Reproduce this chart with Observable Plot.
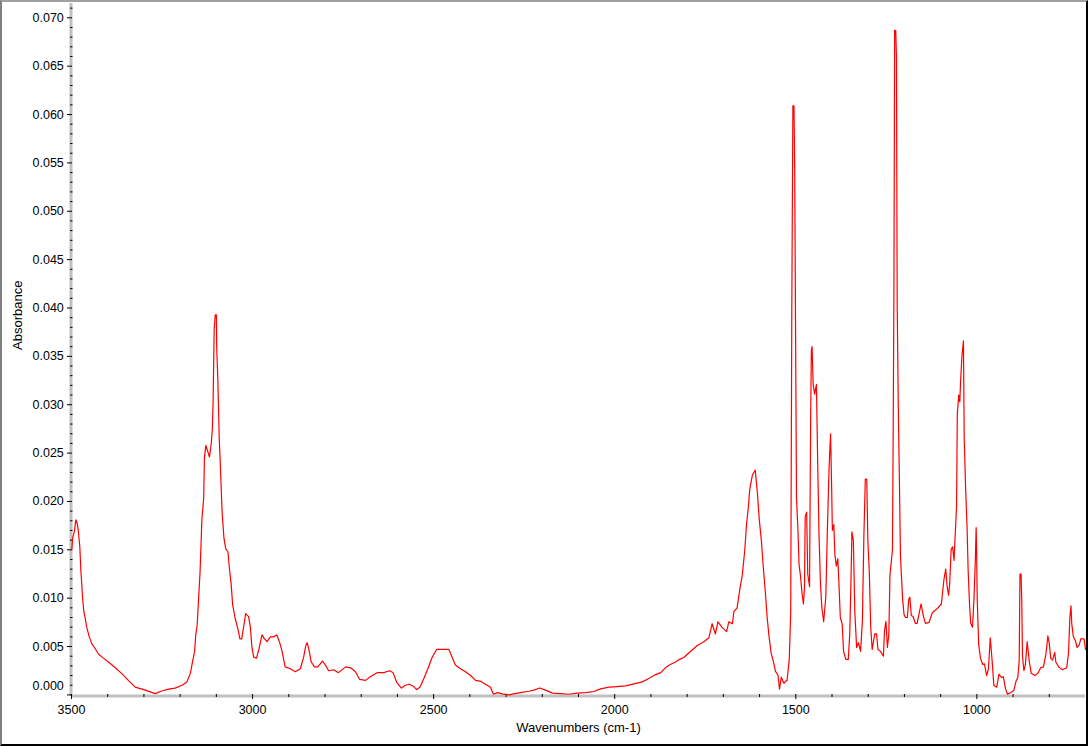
<!DOCTYPE html>
<html>
<head>
<meta charset="utf-8">
<script src="https://cdn.jsdelivr.net/npm/d3@7"></script>
<script src="https://cdn.jsdelivr.net/npm/@observablehq/plot@0.6"></script>
<style>
html, body { margin: 0; padding: 0; background: #fff; }
#wrap { position: relative; width: 1088px; height: 746px; overflow: hidden; }
#border { position: absolute; left: 0; top: 0; width: 1088px; height: 746px; box-sizing: border-box;
  border-top: 2px solid #a0a0a0; border-left: 2px solid #808080; border-right: 2px solid #000; border-bottom: 2px solid #000;
  pointer-events: none; }
</style>
</head>
<body>
<div id="wrap"><div id="chart"></div><div id="border"></div></div>
<script>
const wavenumbers = [
3499,3497,3492,3488,3484,3481,3477,3474,3472,3470,3466,3462,3458,3451,3444,3435,3425,3412,3398,3379,
3361,3343,3324,3296,3269,3251,3232,3214,3195,3182,3172,3166,3160,3157,3153,3149,3145,3140,3135,3133,
3129,3124,3119,3114,3111,3109,3106,3103,3100,3099,3096,3092,3089,3087,3084,3079,3074,3068,3064,3059,
3055,3048,3041,3035,3030,3024,3019,3011,3006,3002,2997,2989,2982,2974,2967,2960,2951,2942,2933,2926,
2919,2910,2896,2882,2868,2859,2853,2849,2844,2838,2829,2820,2813,2807,2799,2790,2776,2763,2743,2729,
2716,2704,2688,2674,2656,2638,2621,2612,2602,2589,2578,2568,2556,2547,2538,2527,2516,2504,2492,2472,
2458,2449,2440,2426,2412,2398,2384,2370,2357,2343,2335,2324,2311,2292,2279,2260,2237,2223,2207,2191,
2172,2150,2127,2103,2080,2058,2039,2016,1993,1970,1947,1924,1906,1887,1873,1860,1850,1841,1832,1820,
1809,1791,1772,1754,1740,1731,1722,1715,1703,1691,1685,1675,1671,1662,1655,1648,1641,1636,1631,1627,
1620,1612,1606,1601,1595,1590,1584,1579,1574,1568,1562,1556,1549,1545,1540,1533,1524,1518,1514,1511,
1508,1505,1503,1501,1498,1494,1491,1487,1483,1479,1476,1474,1470,1467,1462,1459,1457,1455,1452,1448,
1443,1439,1436,1432,1428,1423,1417,1413,1408,1404,1401,1399,1395,1392,1388,1384,1381,1377,1372,1368,
1362,1355,1351,1347,1345,1341,1337,1332,1327,1321,1316,1312,1308,1304,1301,1297,1293,1289,1282,1277,
1273,1266,1258,1255,1251,1247,1243,1240,1236,1233,1231,1229,1227,1224,1222,1220,1217,1214,1211,1208,
1205,1201,1197,1192,1188,1185,1181,1176,1170,1165,1159,1154,1148,1142,1132,1123,1110,1098,1091,1086,
1082,1078,1075,1071,1067,1063,1060,1056,1054,1050,1047,1045,1041,1037,1035,1031,1027,1024,1020,1017,
1012,1008,1004,1002,1001,999,995,990,984,979,973,968,963,958,953,945,939,932,927,921,
916,907,898,892,887,883,881,878,876,874,870,866,861,855,850,840,831,824,816,809,
804,800,796,791,785,782,774,764,752,747,743,740,738,734,728,723,717,713,710,704,
700
];
const absorbance = [
0.01500,0.01620,0.01690,0.01810,0.01770,0.01690,0.01530,0.01270,0.01170,0.01030,0.00860,0.00790,0.00700,0.00600,0.00530,0.00480,0.00420,0.00380,0.00340,0.00280,
0.00220,0.00150,0.00080,0.00050,0.00013,0.00040,0.00060,0.00070,0.00100,0.00130,0.00220,0.00340,0.00450,0.00620,0.00720,0.01000,0.01270,0.01810,0.02030,0.02450,
0.02580,0.02520,0.02460,0.02600,0.02760,0.03030,0.03780,0.03930,0.03930,0.03590,0.03270,0.02650,0.02380,0.02170,0.01880,0.01620,0.01510,0.01480,0.01310,0.01140,
0.00930,0.00790,0.00690,0.00580,0.00580,0.00720,0.00840,0.00810,0.00700,0.00500,0.00390,0.00380,0.00480,0.00620,0.00580,0.00550,0.00600,0.00600,0.00620,0.00550,
0.00460,0.00290,0.00270,0.00240,0.00270,0.00390,0.00510,0.00540,0.00460,0.00340,0.00290,0.00290,0.00320,0.00350,0.00310,0.00250,0.00260,0.00230,0.00290,0.00280,
0.00240,0.00160,0.00150,0.00190,0.00230,0.00230,0.00250,0.00230,0.00130,0.00070,0.00100,0.00110,0.00090,0.00055,0.00080,0.00170,0.00270,0.00390,0.00470,0.00470,
0.00470,0.00390,0.00310,0.00270,0.00240,0.00200,0.00150,0.00140,0.00110,0.00080,0.00007,0.00024,0.00010,0.00000,0.00010,0.00024,0.00038,0.00050,0.00072,0.00049,
0.00018,0.00013,0.00007,0.00018,0.00024,0.00035,0.00062,0.00080,0.00086,0.00093,0.00114,0.00135,0.00169,0.00210,0.00230,0.00280,0.00307,0.00324,0.00340,0.00370,
0.00387,0.00449,0.00510,0.00550,0.00590,0.00736,0.00630,0.00756,0.00695,0.00654,0.00756,0.00736,0.00860,0.00900,0.01080,0.01230,0.01490,0.01760,0.01940,0.02130,
0.02270,0.02325,0.02090,0.01820,0.01595,0.01330,0.01060,0.00797,0.00610,0.00430,0.00347,0.00244,0.00203,0.00060,0.00183,0.00121,0.00154,0.00367,0.00860,0.03990,
0.06090,0.06090,0.05450,0.04030,0.02030,0.01700,0.01350,0.01230,0.01060,0.00940,0.01100,0.01840,0.01890,0.01250,0.01120,0.02840,0.03560,0.03600,0.03210,0.03110,
0.03210,0.02290,0.01680,0.01166,0.00900,0.00756,0.01020,0.01680,0.02350,0.02700,0.02150,0.01700,0.01760,0.01450,0.01330,0.01410,0.01166,0.00800,0.00736,0.00450,
0.00367,0.00367,0.00630,0.01290,0.01685,0.01595,0.00860,0.00490,0.00540,0.00450,0.00777,0.01640,0.02230,0.02230,0.01595,0.01270,0.00695,0.00470,0.00630,0.00630,
0.00470,0.00450,0.00400,0.00670,0.00760,0.00490,0.00630,0.01240,0.01390,0.01505,0.02760,0.04180,0.06870,0.06870,0.06580,0.04050,0.02990,0.02250,0.01440,0.01210,
0.00990,0.00830,0.00800,0.00800,0.00990,0.01010,0.00820,0.00810,0.00740,0.00740,0.00850,0.00940,0.00820,0.00740,0.00750,0.00850,0.00890,0.00940,0.01190,0.01300,
0.01120,0.01030,0.01150,0.01505,0.01530,0.01390,0.01640,0.01950,0.02900,0.03100,0.03030,0.03240,0.03510,0.03660,0.02670,0.02130,0.01730,0.01280,0.00920,0.00740,
0.00700,0.00990,0.01415,0.01730,0.01570,0.00990,0.00520,0.00380,0.00315,0.00320,0.00200,0.00270,0.00590,0.00360,0.00098,0.00080,0.00215,0.00180,0.00190,0.00067,
0.00008,0.00022,0.00045,0.00140,0.00180,0.00360,0.01250,0.01250,0.00970,0.00400,0.00250,0.00315,0.00550,0.00340,0.00225,0.00200,0.00225,0.00280,0.00290,0.00430,
0.00610,0.00530,0.00380,0.00360,0.00440,0.00340,0.00290,0.00260,0.00280,0.00430,0.00810,0.00920,0.00740,0.00610,0.00560,0.00490,0.00520,0.00580,0.00580,0.00580,
0.00470
];
const xMajorTicks = [3500, 3000, 2500, 2000, 1500, 1000];
const xMinorTicks = [3400, 3300, 3200, 3100, 2900, 2800, 2700, 2600, 2400, 2300, 2200, 2100, 1900, 1800, 1700, 1600, 1400, 1300, 1200, 1100, 900, 800];
const yMajorTicks = [0.000, 0.005, 0.010, 0.015, 0.020, 0.025, 0.030, 0.035, 0.040, 0.045, 0.050, 0.055, 0.060, 0.065, 0.070];
const yMinorTicks = [0.001,0.002,0.003,0.004,0.006,0.007,0.008,0.009,0.011,0.012,0.013,0.014,0.016,0.017,0.018,0.019,0.021,0.022,0.023,0.024,0.026,0.027,0.028,0.029,0.031,0.032,0.033,0.034,0.036,0.037,0.038,0.039,0.041,0.042,0.043,0.044,0.046,0.047,0.048,0.049,0.051,0.052,0.053,0.054,0.056,0.057,0.058,0.059,0.061,0.062,0.063,0.064,0.066,0.067,0.068,0.069,0.071];
const xDomain = [3500, 700];
const yDomain = [-0.000165, 0.071478];
const xTitle = "Wavenumbers (cm-1)";
const yTitle = "Absorbance";

const spectrum = wavenumbers.map((w, i) => ({w, a: absorbance[i]}));
const fmt = d => d.toFixed(3);
const blank = () => "";

const plot = Plot.plot({
  width: 1088,
  height: 746,
  marginLeft: 71,
  marginRight: 3,
  marginTop: 3,
  marginBottom: 50,
  style: {fontFamily: "'Liberation Sans', Arial, sans-serif", fontSize: "12.5px", color: "#000", background: "transparent"},
  x: {domain: xDomain},
  y: {domain: yDomain},
  marks: [
    Plot.ruleX([xDomain[0]], {stroke: "#c0c0c0", strokeWidth: 3, dx: -0.5}),
    Plot.ruleY([yDomain[0]], {stroke: "#c0c0c0", strokeWidth: 3, dy: -0.5}),
    Plot.axisX(xMinorTicks, {tickSize: 3, dy: -2, tickFormat: blank, label: null, stroke: "#000"}),
    Plot.axisX(xMajorTicks, {tickSize: 5, dy: -2, tickFormat: blank, label: null, stroke: "#000"}),
    Plot.axisX(xMajorTicks, {tickSize: 0, tickPadding: 9, tickFormat: d => String(d), label: null}),
    Plot.axisY(yMinorTicks, {tickSize: 2.5, dx: 1.5, tickFormat: blank, label: null, stroke: "#000"}),
    Plot.axisY(yMajorTicks, {tickSize: 5, dx: 1, tickFormat: blank, label: null, stroke: "#000"}),
    Plot.axisY(yMajorTicks.filter(d => d > 0), {tickSize: 0, tickPadding: 7.7, tickFormat: fmt, label: null}),
    Plot.axisY([0], {tickSize: 0, tickPadding: 7.7, tickFormat: fmt, label: null, dy: -8.5}),
    Plot.text([yTitle], {text: d => d, frameAnchor: "left", dx: -54, rotate: -90, fontSize: 13}),
    Plot.text([xTitle], {text: d => d, frameAnchor: "bottom", dy: 35, fontSize: 13}),
    Plot.line(spectrum, {x: "w", y: "a", stroke: "#ff0000", strokeWidth: 1.2})
  ]
});
document.getElementById("chart").appendChild(plot);
</script>
</body>
</html>
